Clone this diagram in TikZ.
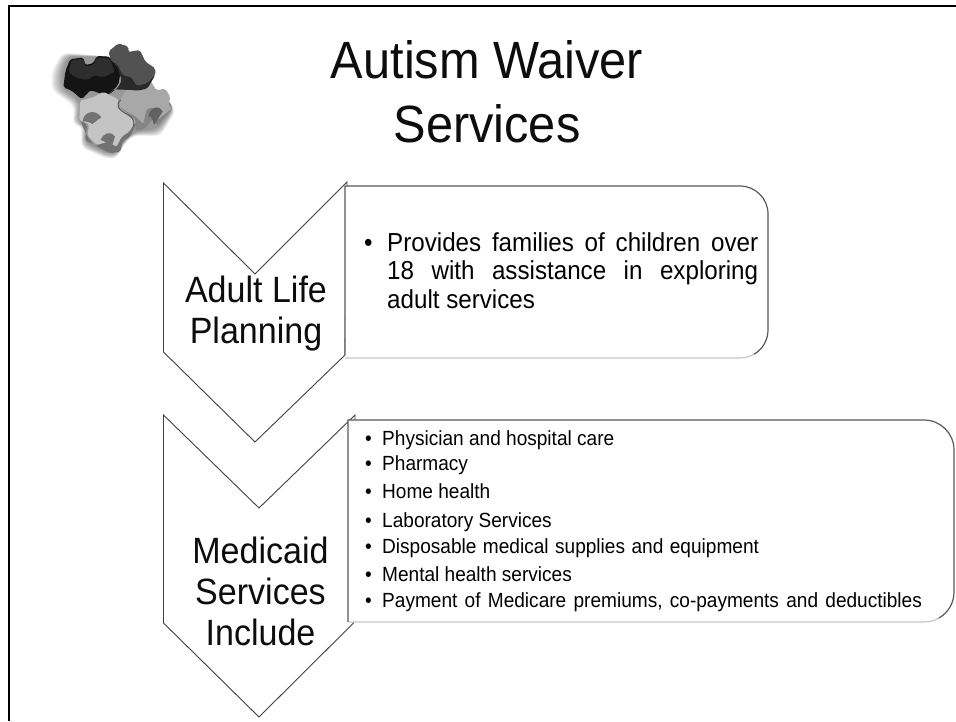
\documentclass[tikz,border=0pt]{standalone}
\usepackage{fontspec}
\setmainfont[FakeStretch=0.93]{Liberation Sans}
\tikzset{
  chevronshape/.style={draw=black!75,line width=0.9pt,fill=white,line join=miter},
  darkedge/.style={draw=black!65,line width=1.2pt},
  paleedge/.style={draw=black!22,line width=1.2pt},
  titletext/.style={font=\fontsize{52.4}{64}\selectfont,align=center,inner sep=0pt,text=black!95},
  chevrontext/.style={font=\fontsize{36.6}{41}\selectfont,align=center,inner sep=0pt,text=black!95},
  bigitem/.style={font=\fontsize{26}{28.5}\selectfont,inner sep=0pt,anchor=base west,text width=371pt,align=justify},
  bigbullet/.style={font=\fontsize{26}{28.5}\selectfont,inner sep=0pt,anchor=base west},
  smallitem/.style={font=\fontsize{20.5}{22}\selectfont,inner sep=0pt,anchor=base west},
  frameline/.style={draw=black,line width=2pt},
}
\begin{document}
\begin{tikzpicture}[x=1pt,y=-1pt]
\useasboundingbox (0,0) rectangle (956,721);
\fill[white] (0,0) rectangle (956,721);
\draw[frameline] (8.5,721) -- (8.5,5.5) -- (956,5.5);
% puzzle image
\begin{scope}[x=0.3333pt,y=-0.3333pt]
  \foreach \r in {1,...,12}{
    \fill[black,opacity=0.04,rounded corners=6pt]
      ({205-1.5*\r},{170-1*\r}) -- (330,170) -- (380,240) -- ({500+0.4*\r},{300}) -- ({516+1*\r},{330}) -- ({470+1*\r},{385+2*\r}) -- ({400},{395+1*\r}) -- ({365},{430+1*\r}) -- ({355},{455+1.5*\r}) -- ({325},{460+1.5*\r}) -- ({255-1*\r},{425+1.5*\r}) -- ({262-1.5*\r},{375}) -- ({236-1.5*\r},{365+1*\r}) -- ({240-1.5*\r},{300+1.5*\r}) -- ({190-3*\r},{265+0.5*\r}) -- ({190-3*\r},{215}) -- cycle;
  }
  % dark piece
  \fill[black!92,rounded corners=2pt] (210,178) -- (250,172) -- (256,195) -- (280,190) -- (290,168) -- (330,170) -- (362,215) -- (355,255) -- (320,288) -- (272,270) -- (245,298) -- (215,272) -- (190,262) -- (196,215) -- cycle;
  \fill[black!82,rounded corners=2pt] (215,180) -- (250,176) -- (256,200) -- (282,194) -- (292,172) -- (328,176) -- (345,215) -- (310,232) -- (285,225) -- (262,240) -- (225,232) -- (205,215) -- cycle;
  % right light piece
  \fill[black!48,rounded corners=2pt] (360,320) -- (410,365) -- (405,392) -- (432,388) -- (462,355) -- (472,378) -- (518,325) -- (505,300) -- (440,330) -- cycle;
  \fill[black!34,rounded corners=2pt] (382,265) -- (450,240) -- (470,272) -- (495,265) -- (512,292) -- (504,315) -- (516,325) -- (472,360) -- (462,322) -- (440,325) -- (430,372) -- (408,350) -- (386,338) -- (356,318) -- (366,290) -- cycle;
  \fill[black!62] (445,350) .. controls (448,325) and (475,310) .. (488,335) .. controls (480,345) and (470,365) .. (462,375) .. controls (460,360) and (452,345) .. (445,350) -- cycle;
  % left light piece
  \fill[black!55,rounded corners=2pt] (240,360) -- (262,375) -- (255,420) -- (330,460) -- (362,455) -- (367,425) -- (390,410) -- (412,365) -- (395,385) -- (370,400) -- (345,440) -- (320,420) -- (285,440) -- (262,410) -- cycle;
  \fill[black!23,rounded corners=2pt] (240,302) -- (280,292) -- (310,275) -- (358,300) -- (352,320) -- (385,345) -- (408,362) -- (388,395) -- (365,410) -- (350,440) -- (325,425) -- (290,435) -- (262,405) -- (268,372) -- (238,362) -- cycle;
  \fill[black!55] (248,365) .. controls (250,335) and (285,325) .. (304,352) .. controls (295,358) and (285,365) .. (278,372) .. controls (270,368) and (258,362) .. (248,365) -- cycle;
  \fill[black!55] (302,420) .. controls (310,400) and (330,390) .. (345,410) .. controls (340,425) and (338,435) .. (332,445) .. controls (325,430) and (312,422) .. (302,420) -- cycle;
  \draw[black!65,line width=1pt] (362,300) .. controls (345,315) and (355,330) .. (385,345) .. controls (400,355) and (405,365) .. (400,380);
  % medium dark piece
  \fill[black!84,rounded corners=2pt] (325,175) -- (350,195) -- (365,240) -- (355,262) -- (325,285) -- (340,268) -- (395,270) -- (412,272) -- (442,266) -- (466,225) -- (440,190) -- cycle;
  \fill[black!68,rounded corners=2pt] (325,155) -- (355,130) -- (386,140) -- (385,156) -- (420,150) -- (436,185) -- (466,205) -- (466,225) -- (440,250) -- (410,258) -- (395,232) -- (368,225) -- (352,192) -- (335,185) -- cycle;
\end{scope}
% title
\node[titletext] (title) at (487,92) {Autism Waiver\\Services};
% chevrons
\draw[chevronshape] (163.5,183) -- (255,274) -- (347,182) -- (345,355) -- (255,442) -- (163.5,352) -- cycle;
\draw[chevronshape] (163.5,415) -- (259,508) -- (355,415) -- (353.5,623) -- (259,717) -- (163.5,623) -- cycle;
% boxes
\fill[white] (345,186) -- (740,186) arc[start angle=-90,end angle=0,radius=28] -- (768,330) arc[start angle=0,end angle=90,radius=28] -- (345,358) -- cycle;
\draw[paleedge] (345,358) -- (740,358) arc[start angle=90,end angle=60,radius=28];
\draw[darkedge] (345,355) -- (345,186) -- (740,186) arc[start angle=-90,end angle=0,radius=28] -- (768,330) arc[start angle=0,end angle=60,radius=28];
\fill[white] (348,420) -- (924,420) arc[start angle=-90,end angle=0,radius=30] -- (954,592) arc[start angle=0,end angle=90,radius=30] -- (348,622) -- cycle;
\draw[paleedge] (349,622) -- (924,622) arc[start angle=90,end angle=60,radius=30];
\draw[darkedge] (348,622) -- (348,420) -- (924,420) arc[start angle=-90,end angle=0,radius=30] -- (954,592) arc[start angle=0,end angle=60,radius=30];
% chevron labels
\node[chevrontext] (adult) at (256,314) {Adult Life\\Planning};
\node[chevrontext] (medicaid) at (260.5,591) {Medicaid\\Services\\Include};
% list A
\node[bigbullet] (bulleta) at (364,251) {•};
\node[bigitem] (texta) at (387,251) {Provides families of children over 18 with assistance in exploring adult services};
% list B
\foreach \n/\yb/\t in {
  p1/445/Physician and hospital care,
  p2/470/Pharmacy,
  p3/498/Home health,
  p4/527/Laboratory Services,
  p5/553/{\spaceskip=6.5pt Disposable medical supplies and equipment},
  p6/581/Mental health services,
  p7/607/{\spaceskip=7.3pt Payment of Medicare premiums, co-payments and deductibles}}{
  \node[smallitem] (b\n) at (365,\yb) {•};
  \node[smallitem] (\n) at (382,\yb) {\t};
}
\end{tikzpicture}
\end{document}
